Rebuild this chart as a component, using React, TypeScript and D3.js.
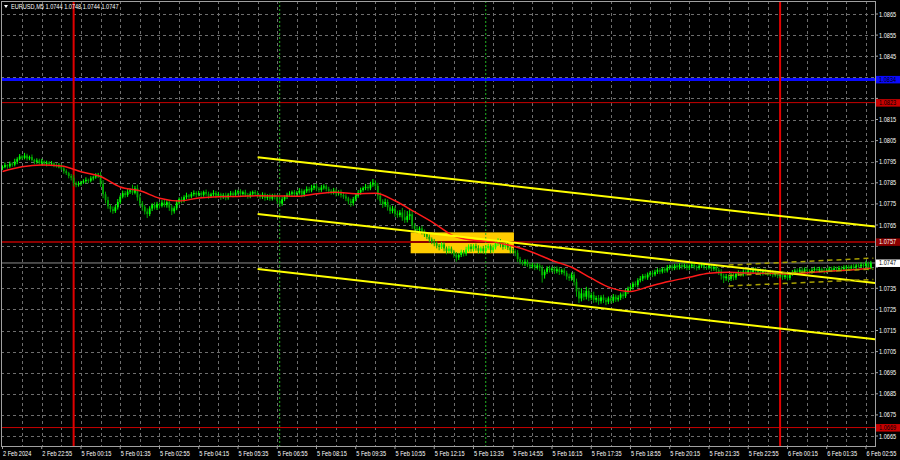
import * as d3 from "d3";

// EURUSD M5, prices kept as pips above 1.0700
const base = 1.07;
const firstOpen = 92.0;

const closes = [
  92.5, 93.4, 92.8, 94.1, 93.6, 95.0, 96.2, 97.5, 96.8, 97.9,
  96.5, 97.2, 95.8, 94.9, 95.6, 94.3, 95.1, 94.0, 94.6, 93.8,
  94.2, 93.5, 92.9, 93.3, 91.8, 90.5, 89.6, 88.2, 87.4, 84.8,
  84.0, 84.6, 85.2, 85.8, 86.4, 86.0, 87.1, 87.6, 88.3, 88.7,
  84.5, 79.6, 76.8, 73.9, 72.5, 71.6, 73.4, 75.9, 78.4, 80.1,
  79.2, 80.8, 81.5, 80.3, 82.4, 78.1, 75.2, 73.6, 71.4, 70.2,
  72.8, 74.5, 73.2, 75.0, 74.1, 75.6, 74.4, 75.8, 73.2, 71.5,
  72.9, 75.6, 77.3, 76.5, 78.2, 79.0, 78.5, 79.6, 80.2, 79.4,
  80.1, 79.3, 80.6, 79.8, 78.7, 79.5, 80.2, 78.9, 79.6, 78.3,
  79.1, 78.0, 79.4, 80.0, 79.2, 80.4, 81.0, 79.7, 80.5, 79.3,
  78.6, 79.8, 80.6, 79.9, 79.0, 78.2, 79.4, 77.8, 78.6, 77.5,
  79.0, 78.3, 76.4, 75.1, 77.2, 78.4, 79.3, 79.8, 80.5, 79.6,
  80.3, 81.2, 79.4, 81.0, 82.1, 81.4, 82.6, 83.5, 82.2, 81.6,
  82.8, 83.3, 82.0, 81.2, 80.4, 81.3, 79.9, 80.6, 79.2, 78.5,
  77.6, 76.2, 75.4, 77.3, 78.8, 80.4, 81.6, 82.5, 83.1, 82.4,
  84.2, 85.0, 83.5, 79.0, 76.2, 74.8, 75.9, 73.4, 71.6, 72.8,
  70.4, 69.7, 70.9, 68.6, 67.4, 69.2, 70.1, 64.8, 63.2, 62.5,
  63.4, 61.9, 60.6, 59.4, 58.2, 57.1, 56.3, 55.2, 54.6, 55.8,
  53.9, 52.7, 53.8, 52.4, 51.0, 49.6, 50.8, 52.2, 51.5, 53.4,
  54.8, 53.6, 55.1, 54.0, 52.8, 53.9, 52.6, 54.2, 55.0, 53.1,
  54.4, 56.3, 57.2, 55.8, 54.6, 55.5, 54.3, 53.0, 52.6, 51.8,
  48.9, 47.5, 46.8, 47.6, 46.2, 45.4, 46.1, 45.0, 45.8, 44.6,
  41.2, 42.8, 44.5, 43.7, 44.3, 43.1, 44.0, 42.7, 43.5, 42.2,
  40.6, 39.8, 41.5, 38.1, 33.5, 30.2, 32.6, 31.0, 33.8, 30.5,
  31.8, 29.6, 30.4, 28.9, 30.7, 29.4, 28.6, 30.2, 29.1, 31.0,
  29.7, 30.5, 32.1, 31.3, 33.4, 34.8, 35.6, 37.2, 36.5, 38.8,
  39.6, 40.8, 40.1, 41.5, 42.3, 41.6, 42.8, 43.6, 42.9, 44.1,
  43.4, 44.8, 45.3, 44.5, 45.8, 44.9, 46.0, 45.2, 45.9, 44.6,
  45.4, 46.2, 45.1, 44.7, 45.6, 46.3, 45.0, 44.8, 45.7, 44.3,
  45.1, 43.6, 42.8, 40.9, 39.8, 40.6, 39.5, 41.2, 40.1, 41.8,
  42.4, 41.6, 43.0, 42.2, 43.5, 42.7, 43.8, 42.9, 43.4, 42.1,
  43.2, 42.6, 41.9, 42.8, 41.4, 42.2, 40.9, 41.7, 40.3, 41.2,
  39.9, 41.8, 42.6, 43.4, 42.7, 43.8, 43.1, 44.0, 43.3, 42.9,
  43.7, 44.2, 43.5, 44.1, 43.6, 43.0, 43.8, 44.3, 43.7, 44.4,
  43.9, 44.6, 44.0, 44.8, 45.2, 44.5, 45.3, 44.9, 45.8, 45.4,
  46.2, 45.6, 46.8, 44.4, 47.0,
];

// upper / lower wick length in pips
const wickHi = [
  0.8, 1.2, 0.5, 1.0, 0.7, 1.4, 0.9, 1.1, 0.6, 1.3,
  0.9, 0.7, 1.2, 0.6, 1.0, 0.8, 1.3, 0.5, 0.9, 0.7,
  1.1, 0.6, 0.8, 1.0, 0.7, 1.2, 0.9, 0.6, 1.0, 1.4,
  0.8, 1.1, 0.7, 0.9, 1.2, 0.6, 1.0, 0.8, 1.3, 1.0,
  1.5, 1.8, 1.2, 1.6, 0.9, 1.3, 1.1, 1.4, 0.8, 1.2,
  1.0, 1.3, 0.9, 2.6, 1.1, 1.7, 1.4, 1.2, 0.9, 1.5,
  1.1, 0.8, 1.3, 1.0, 0.7, 1.2, 1.6, 0.9, 1.1, 1.4,
  1.0, 1.2, 0.8, 1.1, 0.9, 1.3, 0.7, 1.0, 1.2, 0.8,
  1.1, 0.9, 0.7, 1.2, 1.0, 0.8, 1.3, 0.9, 1.1, 0.7,
  1.0, 1.2, 0.8, 1.1, 0.9, 1.3, 0.7, 1.0, 0.8, 1.2,
  0.9, 1.1, 0.7, 1.0, 1.2, 0.8, 1.1, 0.9, 1.0, 1.3,
  0.8, 1.0, 1.2, 0.9, 1.1, 0.7, 1.0, 1.2, 0.8, 1.1,
  0.9, 1.3, 1.0, 0.8, 1.2, 1.0, 1.4, 0.9, 1.1, 0.8,
  1.2, 1.0, 0.9, 1.1, 0.8, 1.3, 1.0, 0.9, 1.2, 1.0,
  1.1, 0.8, 1.3, 1.0, 0.9, 1.2, 1.1, 0.8, 1.4, 1.0,
  1.3, 1.8, 1.2, 1.5, 1.4, 1.0, 1.6, 1.2, 1.1, 1.3,
  1.0, 1.4, 1.2, 2.2, 3.5, 2.4, 2.8, 1.5, 1.1, 1.3,
  0.9, 1.2, 1.0, 0.8, 1.1, 0.9, 1.3, 1.0, 0.8, 1.2,
  1.1, 0.9, 1.3, 1.0, 0.8, 1.2, 1.0, 1.1, 0.9, 1.3,
  1.0, 1.2, 0.8, 1.1, 1.4, 0.9, 1.2, 1.0, 1.1, 0.8,
  1.2, 1.0, 1.5, 1.1, 0.9, 1.2, 1.0, 0.8, 1.1, 1.0,
  1.3, 1.0, 0.9, 1.2, 1.0, 0.8, 1.1, 0.9, 1.2, 1.0,
  1.4, 1.1, 1.0, 1.2, 0.9, 1.1, 1.3, 1.0, 0.8, 1.2,
  1.1, 1.3, 1.0, 1.2, 1.5, 1.8, 2.4, 1.5, 1.9, 1.4,
  1.2, 1.6, 1.1, 1.4, 1.0, 1.3, 1.2, 0.9, 1.1, 1.3,
  1.0, 1.2, 0.9, 1.1, 1.3, 1.0, 1.2, 0.9, 1.1, 1.0,
  1.2, 0.9, 1.1, 1.0, 0.8, 1.2, 1.0, 0.9, 1.1, 0.8,
  1.0, 1.2, 0.9, 1.1, 0.8, 1.0, 0.9, 1.1, 0.8, 1.0,
  0.9, 1.0, 1.2, 0.8, 1.0, 0.9, 1.1, 0.8, 1.0, 0.9,
  1.0, 0.8, 1.1, 1.3, 1.0, 1.2, 0.9, 1.1, 1.0, 0.8,
  1.1, 0.9, 1.0, 0.8, 1.1, 0.9, 1.0, 1.2, 0.8, 1.0,
  0.9, 1.1, 0.8, 1.0, 0.9, 1.1, 1.0, 0.8, 1.2, 0.9,
  1.0, 0.8, 1.1, 0.9, 1.0, 0.8, 1.1, 0.9, 1.0, 0.8,
  0.9, 1.0, 0.8, 1.1, 0.9, 1.0, 0.8, 1.0, 0.9, 1.1,
  0.8, 1.0, 0.9, 1.1, 0.8, 1.0, 0.9, 1.2, 0.8, 1.0,
  1.1, 0.9, 1.2, 0.8, 1.0,
];

const wickLo = [
  0.9, 0.6, 1.1, 0.7, 1.0, 0.8, 1.2, 0.6, 0.9, 0.7,
  1.0, 0.8, 0.7, 1.1, 0.9, 0.6, 1.0, 0.8, 1.2, 0.7,
  0.9, 1.1, 0.7, 1.0, 0.8, 1.2, 0.9, 1.1, 1.3, 1.5,
  1.1, 0.8, 1.0, 0.7, 0.9, 1.2, 0.8, 1.0, 0.7, 0.9,
  1.4, 1.9, 1.6, 1.2, 1.5, 1.3, 0.9, 1.1, 1.0, 0.8,
  1.2, 0.9, 1.1, 1.0, 0.8, 1.6, 1.3, 1.8, 1.4, 1.9,
  1.0, 1.2, 0.9, 1.1, 1.3, 0.8, 1.0, 1.2, 1.5, 1.8,
  1.1, 0.9, 1.0, 1.2, 0.8, 1.0, 1.1, 0.9, 1.0, 1.2,
  0.8, 1.1, 0.9, 1.0, 1.3, 0.9, 1.0, 1.2, 0.8, 1.4,
  0.9, 1.3, 1.0, 0.8, 1.1, 0.9, 1.0, 1.2, 0.8, 1.0,
  1.1, 0.9, 1.0, 0.8, 1.2, 1.0, 0.9, 1.3, 1.0, 1.1,
  0.9, 1.2, 1.4, 1.6, 1.0, 0.9, 1.1, 0.8, 1.0, 1.2,
  1.0, 0.9, 1.3, 1.0, 0.8, 1.1, 0.9, 1.0, 1.2, 1.1,
  0.9, 1.0, 1.1, 1.3, 1.0, 0.9, 1.4, 1.0, 1.2, 1.1,
  1.3, 1.5, 1.8, 1.2, 1.0, 0.9, 1.1, 0.8, 1.0, 1.2,
  0.9, 1.1, 1.6, 1.9, 1.5, 1.7, 1.2, 1.6, 1.4, 1.1,
  1.5, 1.3, 1.0, 1.6, 1.4, 1.2, 1.8, 1.6, 1.3, 1.4,
  1.2, 1.4, 1.3, 1.1, 1.5, 1.2, 1.4, 1.3, 1.6, 1.0,
  1.4, 1.6, 1.1, 1.3, 1.5, 2.0, 1.2, 1.0, 1.4, 1.1,
  1.0, 1.3, 1.1, 1.2, 1.5, 1.0, 1.3, 1.1, 0.9, 1.4,
  1.1, 1.0, 1.2, 1.4, 1.3, 1.0, 1.2, 1.5, 1.1, 1.6,
  1.4, 1.2, 1.0, 1.3, 1.1, 1.2, 1.0, 1.4, 1.1, 1.5,
  3.5, 1.6, 1.0, 1.2, 1.1, 1.3, 1.0, 1.4, 1.1, 1.2,
  1.5, 1.3, 1.2, 1.8, 2.5, 2.2, 1.4, 1.7, 1.3, 1.6,
  1.2, 1.5, 1.3, 1.7, 1.2, 1.4, 1.6, 1.1, 1.3, 1.0,
  1.2, 1.0, 1.1, 1.3, 0.9, 1.1, 1.0, 1.2, 0.9, 1.1,
  1.0, 1.2, 0.9, 1.1, 1.0, 1.3, 0.9, 1.0, 1.2, 0.9,
  1.1, 0.9, 1.0, 1.2, 0.9, 1.1, 1.0, 1.2, 0.9, 1.1,
  1.0, 0.9, 1.1, 1.3, 0.9, 1.0, 1.2, 1.1, 0.9, 1.2,
  1.0, 1.3, 1.5, 1.8, 2.3, 1.2, 1.6, 1.0, 1.3, 1.1,
  0.9, 1.1, 1.0, 1.2, 0.9, 1.1, 1.0, 0.8, 1.1, 1.2,
  1.0, 0.9, 1.1, 1.0, 1.2, 0.9, 1.1, 1.0, 1.3, 1.0,
  1.2, 1.0, 0.9, 1.1, 1.0, 0.9, 1.1, 0.8, 1.0, 0.9,
  1.0, 0.8, 1.1, 0.9, 1.0, 1.2, 0.9, 0.8, 1.0, 0.9,
  1.1, 0.8, 1.0, 0.9, 1.0, 0.8, 1.1, 0.9, 1.0, 0.8,
  0.9, 1.1, 0.8, 0.9, 0.4,
];

// moving average read every 8 bars
const maBars = [0, 8, 16, 24, 32, 40, 48, 56, 64, 72, 80, 88, 96, 104, 112, 120, 128, 136, 144, 152, 160, 168, 176, 184, 192, 200, 208, 216, 224, 232, 240, 248, 256, 264, 272, 280, 288, 296, 304, 312, 320, 328, 336, 344, 352, 354];
const maValues = [90.4, 92.6, 93.4, 93.0, 90.2, 88.0, 83.0, 81.2, 77.7, 76.4, 77.8, 78.4, 78.5, 78.9, 78.8, 78.6, 79.8, 80.5, 79.8, 80.0, 76.5, 71.2, 65.8, 59.8, 57.8, 57.0, 55.0, 52.1, 48.2, 45.0, 39.8, 35.2, 33.5, 36.0, 38.3, 40.2, 42.1, 42.6, 42.2, 42.1, 41.8, 42.4, 43.0, 43.6, 44.3, 44.5];

const timeLabels = ["2 Feb 2024", "2 Feb 22:55", "5 Feb 00:15", "5 Feb 01:35", "5 Feb 02:55", "5 Feb 04:15", "5 Feb 05:35", "5 Feb 06:55", "5 Feb 08:15", "5 Feb 09:35", "5 Feb 10:55", "5 Feb 12:15", "5 Feb 13:35", "5 Feb 14:55", "5 Feb 16:15", "5 Feb 17:35", "5 Feb 18:55", "5 Feb 20:15", "5 Feb 21:35", "5 Feb 22:55", "6 Feb 00:15", "6 Feb 01:35", "6 Feb 02:55"];
const priceTicks = [1.0865, 1.0855, 1.0845, 1.0835, 1.0825, 1.0815, 1.0805, 1.0795, 1.0785, 1.0775, 1.0765, 1.0755, 1.0745, 1.0735, 1.0725, 1.0715, 1.0705, 1.0695, 1.0685, 1.0675, 1.0665];

const levels = [
  { price: 1.0834, color: "#0a0aff", width: 3, label: "1.0834", text: "#000000" },
  { price: 1.0823, color: "#c80000", width: 1, label: "1.0823", text: "#000000" },
  { price: 1.0757, color: "#8c0000", width: 2, label: "1.0757", text: "#ffffff" },
  { price: 1.0669, color: "#c80000", width: 1, label: "1.0669", text: "#000000" },
];
const bidPrice = 1.0747;

const dayBreaks = [29, 317];
const sessionBars = [113, 197];

// trend channel [bar, pips] start / end
const channel = [
  [104, 97.1, 356, 64.2],
  [104, 70.2, 356, 37.5],
  [104, 44.1, 356, 10.8],
];
const stdChannel = [
  [296, 46.0, 355, 49.3],
  [296, 41.1, 355, 44.1],
  [296, 36.1, 355, 39.2],
];
const zone = { from: 166.4, to: 208.5, top: 61.5, bottom: 51.6 };

const P = { left: 1, top: 1, right: 875, bottom: 446 };
const toPrice = (p: number) => base + p / 10000;

function Label({ x, y, children, fill = "#ffffff", anchor = "start" }: any) {
  return (
    <text
      transform={`translate(${x},${y}) scale(0.8,1)`}
      fill={fill}
      fontSize={7}
      fontFamily="'Liberation Sans', Arial, sans-serif"
      textAnchor={anchor}
    >
      {children}
    </text>
  );
}

export default function App() {
  const n = closes.length;
  const x = d3.scaleLinear().domain([0, n - 1]).range([2.5, 2.5 + (n - 1) * 2.453]);
  const y = d3.scaleLinear().domain([1.0665, 1.0865]).range([436, 14]);
  const yp = (p: number) => y(toPrice(p));

  const bars = closes.map((c, i) => {
    const o = i === 0 ? firstOpen : closes[i - 1];
    return { i, o, c, h: Math.max(o, c) + wickHi[i], l: Math.min(o, c) - wickLo[i] };
  });

  const maLine = d3
    .line<number>()
    .x((_, k) => x(maBars[k]))
    .y((v) => yp(v))
    .curve(d3.curveMonotoneX)(maValues);

  const gridBars = d3.range(8, n, 8);

  // axis labels hidden behind the coloured price boxes
  const boxYs = [...levels.map((l) => y(l.price)), y(bidPrice)];
  const visibleTicks = priceTicks.filter((p) => boxYs.every((b) => Math.abs(y(p) - b) > 7.5));

  return (
    <svg width={900} height={460} style={{ position: "absolute", left: 0, top: 0, background: "#000" }}>
      <rect width={900} height={460} fill="#000000" />
      <defs>
        <clipPath id="plot">
          <rect x={P.left} y={P.top} width={P.right - P.left} height={P.bottom - P.top} />
        </clipPath>
      </defs>

      <g clipPath="url(#plot)">
        {/* grid */}
        {priceTicks.map((p) => (
          <line key={p} x1={P.left} x2={P.right} y1={Math.round(y(p)) + 0.5} y2={Math.round(y(p)) + 0.5}
            stroke="#6e6e6e" strokeDasharray="3,3" />
        ))}
        {gridBars.map((b) => (
          <line key={b} x1={Math.round(x(b)) + 0.5} x2={Math.round(x(b)) + 0.5} y1={P.top} y2={P.bottom}
            stroke="#6e6e6e" strokeDasharray="3,3" />
        ))}

        {/* support zone */}
        <rect x={x(zone.from)} width={x(zone.to) - x(zone.from)} y={yp(zone.top)} height={yp(zone.bottom) - yp(zone.top)}
          fill="#ffcc00" />

        {/* horizontal levels */}
        {levels.map((l) => (
          <line key={l.label} x1={P.left} x2={P.right} y1={y(l.price)} y2={y(l.price)} stroke={l.color} strokeWidth={l.width} />
        ))}
        <line x1={P.left} x2={P.right} y1={y(bidPrice)} y2={y(bidPrice)} stroke="#8a8a8a" strokeWidth={1} />

        {/* vertical markers */}
        {sessionBars.map((b) => (
          <line key={b} x1={x(b)} x2={x(b)} y1={P.top} y2={P.bottom} stroke="#22b422" strokeDasharray="2,2" />
        ))}
        {dayBreaks.map((b) => (
          <line key={b} x1={x(b)} x2={x(b)} y1={P.top} y2={P.bottom} stroke="#e00000" strokeWidth={2} />
        ))}

        {/* candles */}
        {bars.map((b) => {
          const up = b.c >= b.o;
          const col = up ? "#00ff00" : "#00a800";
          const top = yp(Math.max(b.o, b.c));
          const bot = yp(Math.min(b.o, b.c));
          return (
            <g key={b.i}>
              <line x1={x(b.i)} x2={x(b.i)} y1={yp(b.h)} y2={yp(b.l)} stroke={col} strokeWidth={1} />
              <rect x={x(b.i) - 0.9} width={1.8} y={top} height={Math.max(bot - top, 0.8)} fill={col} />
            </g>
          );
        })}

        {/* moving average */}
        <path d={maLine ?? ""} fill="none" stroke="#ff1a1a" strokeWidth={1.5} />

        {/* channel */}
        {channel.map((c, k) => (
          <line key={k} x1={x(c[0])} y1={yp(c[1])} x2={x(c[2])} y2={yp(c[3])} stroke="#ffff00" strokeWidth={2} />
        ))}
        {stdChannel.map((c, k) => (
          <line key={k} x1={x(c[0])} y1={yp(c[1])} x2={x(c[2])} y2={yp(c[3])} stroke="#a8a000" strokeWidth={1.5} strokeDasharray="5,4" />
        ))}
      </g>

      {/* frame */}
      <rect x={P.left + 0.5} y={P.top + 0.5} width={P.right - P.left} height={P.bottom - P.top} fill="none" stroke="#a0a0a0" />

      {/* price axis */}
      {priceTicks.map((p) => (
        <line key={p} x1={P.right} x2={P.right + 3} y1={y(p)} y2={y(p)} stroke="#a0a0a0" />
      ))}
      {visibleTicks.map((p) => (
        <Label key={p} x={879} y={y(p) + 2.5}>{p.toFixed(4)}</Label>
      ))}
      {levels.map((l) => (
        <g key={l.label}>
          <rect x={876} y={y(l.price) - 3.5} width={24} height={7.5} fill={l.color} />
          <Label x={879} y={y(l.price) + 2.5} fill={l.text}>{l.label}</Label>
        </g>
      ))}
      <rect x={876} y={y(bidPrice) - 3.5} width={24} height={7.5} fill="#ffffff" />
      <Label x={879} y={y(bidPrice) + 2.5} fill="#000000">{bidPrice.toFixed(4)}</Label>

      {/* time axis */}
      {timeLabels.map((t, k) => (
        <g key={t}>
          <line x1={x(k * 16)} x2={x(k * 16)} y1={P.bottom} y2={P.bottom + 3} stroke="#a0a0a0" />
          <Label x={x(k * 16) + 0.5} y={456}>{t}</Label>
        </g>
      ))}

      {/* header */}
      <path d="M4,5 L8,5 L6,8 Z" fill="#ffffff" />
      <Label x={11} y={8.5}>EURUSD,M5  1.0744 1.0748 1.0744 1.0747</Label>
    </svg>
  );
}
